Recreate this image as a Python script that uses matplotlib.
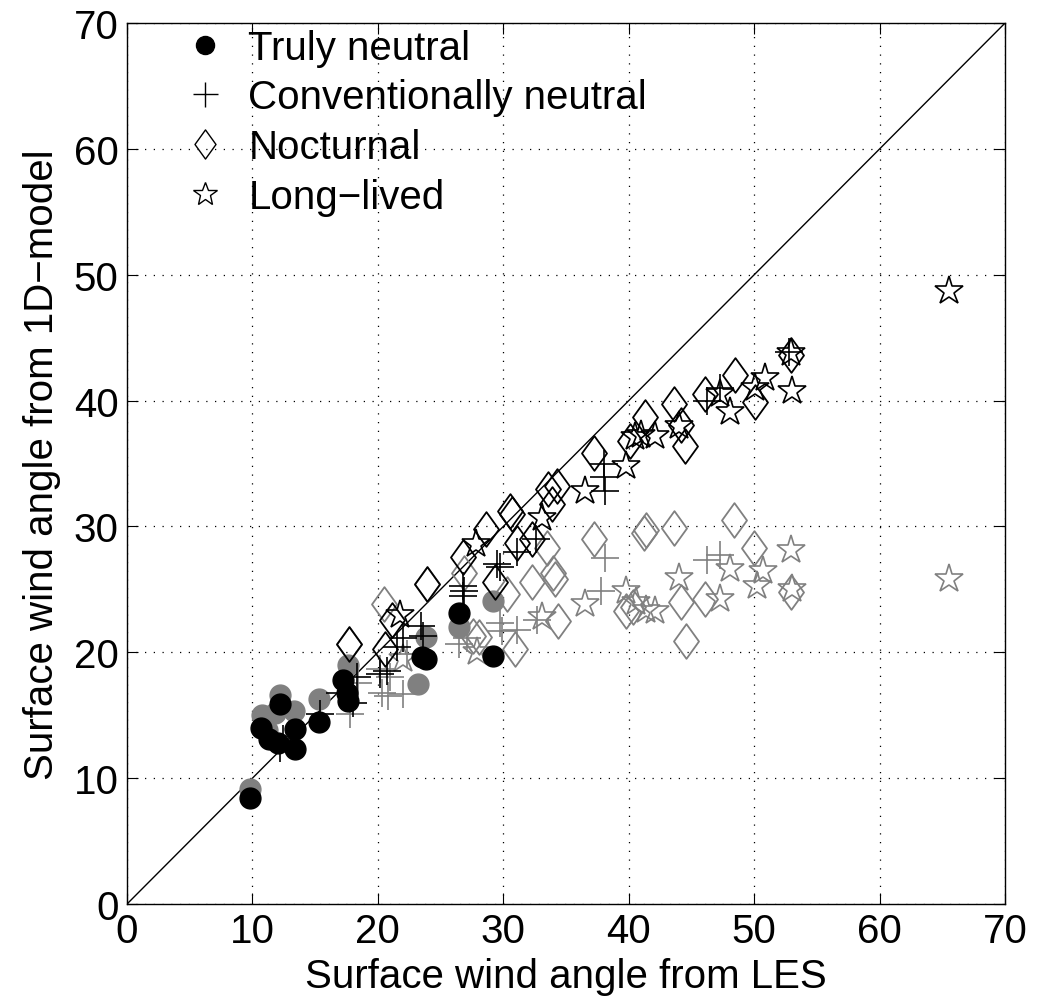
import matplotlib.pyplot as plt
from matplotlib.lines import Line2D
from matplotlib.path import Path

plt.rcParams['font.family'] = ['Liberation Sans', 'DejaVu Sans']

# Truly neutral (filled circles)
tn_black_x = [9.8, 12.2, 10.7, 11.3, 12.0, 13.4, 13.4, 15.3, 17.25, 17.5, 17.6, 23.5, 23.8, 26.5, 29.2]
tn_black_y = [8.4, 15.9, 14.0, 13.1, 12.8, 13.9, 12.3, 14.5, 17.8, 16.8, 16.1, 19.6, 19.5, 23.1, 19.7]
tn_gray_x = [9.8, 12.2, 10.8, 11.8, 13.3, 11.2, 15.3, 17.6, 23.2, 23.8, 26.5, 29.2]
tn_gray_y = [9.1, 16.6, 15.0, 15.2, 15.3, 13.8, 16.3, 19.0, 17.5, 21.2, 22.0, 24.1]

# Conventionally neutral (plus)
cn_black_x = [12.4, 12.2, 15.4, 17.0, 18.0, 18.3, 20.2, 20.7, 21.5, 22.0, 23.4, 23.6,
              26.8, 26.9, 26.8, 29.5, 29.7, 31.1, 32.6, 38.0, 38.0, 38.1, 46.2, 47.3, 52.8]
cn_black_y = [13.1, 12.4, 15.1, 16.8, 16.0, 18.0, 18.3, 18.5, 20.4, 21.1, 22.1, 21.3,
              24.5, 24.9, 25.3, 27.0, 26.8, 28.0, 29.0, 35.0, 33.9, 32.8, 40.0, 41.0, 43.9]
cn_gray_x = [17.8, 18.4, 20.3, 20.8, 22.0, 20.2, 21.0, 22.3, 26.5, 27.1, 29.7, 29.9,
             31.1, 32.7, 37.8, 38.1, 46.2, 47.3]
cn_gray_y = [15.1, 17.6, 16.8, 16.5, 16.7, 18.7, 18.0, 19.9, 20.7, 21.1, 22.3, 21.7,
             21.8, 22.6, 24.9, 27.5, 27.3, 27.7]

# Nocturnal (open diamonds)
no_black_x = [17.7, 20.6, 21.1, 23.9, 26.8, 28.6, 30.5, 30.7, 31.1, 32.3, 33.6, 34.3,
              33.9, 29.3, 37.2, 40.1, 41.3, 43.6, 44.2, 44.5, 46.1, 48.5, 50.1, 52.9]
no_black_y = [20.7, 20.3, 22.6, 25.4, 27.6, 29.8, 31.2, 31.0, 28.7, 29.0, 33.0, 33.2,
              31.8, 25.6, 35.8, 36.8, 38.7, 39.7, 38.1, 36.4, 40.5, 42.0, 39.9, 43.6]
no_gray_x = [17.7, 20.5, 23.9, 26.9, 27.6, 28.1, 30.3, 30.9, 32.3, 33.5, 34.0, 34.1,
             34.4, 37.2, 39.8, 40.3, 41.2, 41.4, 43.6, 44.2, 44.6, 46.1, 48.4, 50.0, 52.9]
no_gray_y = [20.7, 23.8, 25.4, 26.3, 21.3, 21.2, 24.6, 20.3, 25.6, 28.3, 26.3, 25.8,
             22.5, 29.0, 23.3, 23.6, 29.5, 29.7, 29.9, 24.0, 20.9, 24.2, 30.5, 28.3, 24.8]

# Long-lived (open stars)
ll_black_x = [21.8, 27.8, 33.1, 36.5, 39.8, 40.5, 41.0, 42.1, 44.0, 47.3, 48.1, 50.1,
              50.9, 52.9, 53.0, 65.5]
ll_black_y = [23.0, 28.6, 30.7, 32.8, 34.8, 37.1, 37.3, 37.2, 38.0, 40.5, 39.1, 41.0,
              41.8, 43.8, 40.8, 48.7]
ll_gray_x = [22.0, 27.9, 33.1, 36.5, 39.8, 40.6, 41.4, 42.1, 44.0, 47.3, 48.1, 50.7,
             50.2, 52.9, 53.0, 65.5]
ll_gray_y = [19.5, 20.0, 22.8, 23.8, 24.9, 24.0, 23.4, 23.3, 25.9, 24.2, 26.6, 26.5,
             25.3, 28.1, 25.0, 25.8]

labels = ['Truly neutral', 'Conventionally neutral', 'Nocturnal', 'Long\u2212lived']

gray = '#808080'
FS = 29

# matlab-like diamond: a bit wider than matplotlib's thin diamond
diamond = Path([(0, 1), (0.72, 0), (0, -1), (-0.72, 0), (0, 1)],
               [Path.MOVETO, Path.LINETO, Path.LINETO, Path.LINETO, Path.CLOSEPOLY])

fig = plt.figure(figsize=(10.48, 10.03), dpi=100)
ax = fig.add_axes([0.1212, 0.0977, 0.8378, 0.8783])

ax.plot([0, 70], [0, 70], color='black', lw=1.0, zorder=1)

for col, z in [(gray, 2), ('black', 3)]:
    if col == gray:
        data = [(tn_gray_x, tn_gray_y), (cn_gray_x, cn_gray_y),
                (no_gray_x, no_gray_y), (ll_gray_x, ll_gray_y)]
    else:
        data = [(tn_black_x, tn_black_y), (cn_black_x, cn_black_y),
                (no_black_x, no_black_y), (ll_black_x, ll_black_y)]
    ax.plot(data[0][0], data[0][1], 'o', ms=15, mfc=col, mec=col, ls='none', zorder=z)
    ax.plot(data[1][0], data[1][1], '+', ms=20, mew=1.2, color=col, ls='none', zorder=z)
    ax.plot(data[2][0], data[2][1], marker=diamond, ms=25, mfc='none', mec=col, mew=1.3,
            ls='none', zorder=z)
    ax.plot(data[3][0], data[3][1], '*', ms=21, mfc='none', mec=col, mew=1.2, ls='none', zorder=z)

ax.set_xlim(0, 70)
ax.set_ylim(0, 70)
ax.set_xticks(range(0, 71, 10))
ax.set_yticks(range(0, 71, 10))
ax.grid(True, ls=(0, (1, 6)), color='black', lw=0.9)
ax.tick_params(direction='in', top=True, right=True, length=8, labelsize=FS, pad=6)
for s in ax.spines.values():
    s.set_linewidth(1.0)

ax.set_xlabel('Surface wind angle from LES', fontsize=FS, labelpad=5)
ax.set_ylabel('Surface wind angle from 1D\u2212model', fontsize=FS, labelpad=9)

handles = [
    Line2D([], [], marker='o', ms=13, color='black', ls='none'),
    Line2D([], [], marker='+', ms=18, mew=1.0, color='black', ls='none'),
    Line2D([], [], marker=diamond, ms=21, mfc='none', mec='black', mew=1.0, ls='none'),
    Line2D([], [], marker='*', ms=18, mfc='none', mec='black', mew=1.0, ls='none'),
]
ax.legend(handles, labels, loc='upper left', frameon=False, fontsize=FS,
          bbox_to_anchor=(0.036, 1.012), handlelength=1.5, handletextpad=0.33,
          labelspacing=0.29, borderaxespad=0.0)

fig.savefig('out.png', dpi=100)
